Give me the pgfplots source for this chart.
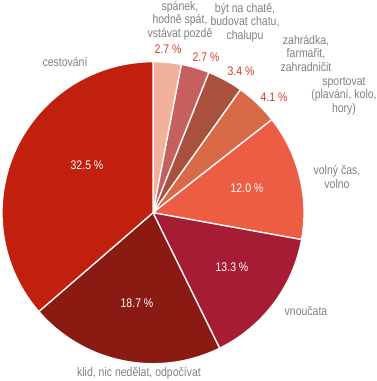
\documentclass[border=0pt]{standalone}
\usepackage{fontspec}
\setmainfont{Liberation Sans}[FakeStretch=0.84]
\usepackage{pgfplots}
\pgfplotsset{compat=1.18}
\definecolor{cA}{HTML}{F2B19B}
\definecolor{cB}{HTML}{C5605F}
\definecolor{cC}{HTML}{A9503F}
\definecolor{cD}{HTML}{D96A48}
\definecolor{cE}{HTML}{EC5D43}
\definecolor{cF}{HTML}{A71C35}
\definecolor{cG}{HTML}{8B1B12}
\definecolor{cH}{HTML}{C2200F}
\definecolor{lbl}{HTML}{808080}
\definecolor{pct}{HTML}{D63B2A}
\tikzset{lab/.style={font=\fontsize{12.5}{13.5}\selectfont, align=center, inner sep=0pt}}
\begin{document}
\begin{tikzpicture}
\useasboundingbox (0,0) rectangle (376pt,381pt);
\begin{axis}[at={(0,0)}, anchor=south west, x=1pt, y=1pt,
  xmin=0, xmax=376, ymin=0, ymax=381, hide axis, clip=false]
\xdef\startang{90}
\foreach \v/\c in {2.7/cA, 2.7/cB, 3.4/cC, 4.1/cD, 12.0/cE, 13.3/cF, 18.7/cG, 32.5/cH}{
  \pgfmathsetmacro\endang{\startang - \v/89.4*360}
  \edef\temp{\noexpand\fill[\c, draw=white, line width=1.3pt, line join=round] (axis cs:153,168.3) -- ++(\startang:151pt) arc[start angle=\startang, end angle=\endang, radius=151pt] -- cycle;}
  \temp
  \xdef\startang{\endang}
}
\node[lab, text=lbl] at (axis cs:180,360.5) {spánek,\\hodně spát,\\vstávat pozdě};
\node[lab, text=lbl] at (axis cs:245,358.5) {být na chatě,\\budovat chatu,\\chalupu};
\node[lab, text=lbl] at (axis cs:306,328) {zahrádka,\\farmařit,\\zahradničit};
\node[lab, text=lbl] at (axis cs:344,285) {sportovat\\(plavání, kolo,\\hory)};
\node[lab, text=lbl] at (axis cs:337,204) {volný čas,\\volno};
\node[lab, text=lbl] at (axis cs:306,70) {vnoučata};
\node[lab, text=lbl] at (axis cs:139,8) {klid, nic nedělat, odpočívat};
\node[lab, text=lbl] at (axis cs:65,319) {cestování};
\node[lab, text=pct] at (axis cs:168,332) {2.7 \%};
\node[lab, text=pct] at (axis cs:206,324) {2.7 \%};
\node[lab, text=pct] at (axis cs:241,310) {3.4 \%};
\node[lab, text=pct] at (axis cs:274,284) {4.1 \%};
\node[lab, text=white] at (axis cs:247,193) {12.0 \%};
\node[lab, text=white] at (axis cs:232,114) {13.3 \%};
\node[lab, text=white] at (axis cs:137,78) {18.7 \%};
\node[lab, text=white] at (axis cs:87,216) {32.5 \%};
\end{axis}
\end{tikzpicture}
\end{document}
